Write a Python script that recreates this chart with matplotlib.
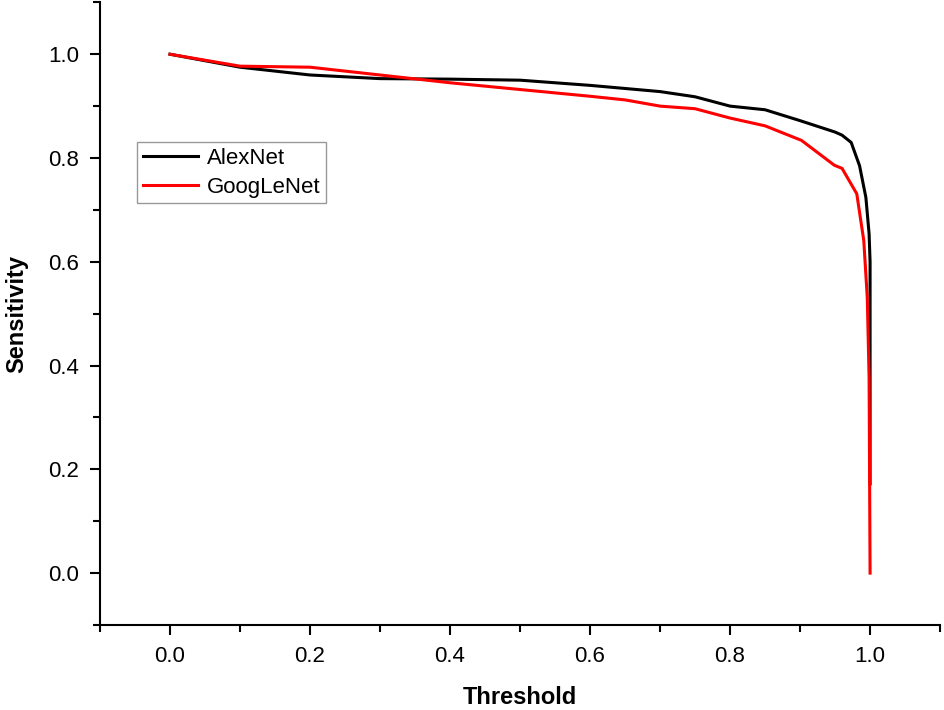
import matplotlib
matplotlib.use("Agg")
import matplotlib.pyplot as plt
from matplotlib.ticker import MultipleLocator

plt.rcParams['font.family'] = ['Liberation Sans', 'DejaVu Sans']

# threshold vs sensitivity
alex_x = [0.0, 0.1, 0.2, 0.3, 0.4, 0.5, 0.6, 0.7, 0.75, 0.8, 0.85, 0.9,
          0.95, 0.96, 0.973, 0.985, 0.994, 0.9986, 1.0, 1.0]
alex_y = [1.0, 0.975, 0.96, 0.953, 0.952, 0.95, 0.94, 0.928, 0.918, 0.9,
          0.893, 0.872, 0.85, 0.844, 0.83, 0.785, 0.724, 0.654, 0.6, 0.172]

goog_x = [0.0, 0.1, 0.2, 0.3, 0.4, 0.5, 0.6, 0.65, 0.7, 0.75, 0.8, 0.85,
          0.902, 0.949, 0.96, 0.981, 0.991, 0.996, 0.9986, 1.0]
goog_y = [1.0, 0.977, 0.975, 0.96, 0.945, 0.932, 0.919, 0.912, 0.9, 0.895,
          0.877, 0.862, 0.834, 0.786, 0.78, 0.731, 0.641, 0.531, 0.376, 0.0]

fig = plt.figure(figsize=(9.45, 7.1), dpi=100)
ax = fig.add_axes([0.1058, 0.1197, 0.889, 0.877])

ax.plot(alex_x, alex_y, color='black', lw=2.2, label='AlexNet')
ax.plot(goog_x, goog_y, color='red', lw=2.2, label='GoogLeNet')

ax.set_xlim(-0.1, 1.1)
ax.set_ylim(-0.1, 1.1)
ax.xaxis.set_minor_locator(MultipleLocator(0.1))
ax.yaxis.set_minor_locator(MultipleLocator(0.1))
ax.set_xticks([0.0, 0.2, 0.4, 0.6, 0.8, 1.0])
ax.set_yticks([0.0, 0.2, 0.4, 0.6, 0.8, 1.0])
ax.xaxis.set_major_formatter(plt.FormatStrFormatter('%.1f'))
ax.yaxis.set_major_formatter(plt.FormatStrFormatter('%.1f'))

for s in ['top', 'right']:
    ax.spines[s].set_visible(False)
for s in ['left', 'bottom']:
    ax.spines[s].set_linewidth(1.5)

ax.tick_params(which='major', direction='out', length=7, width=1.5, labelsize=16, pad=8)
ax.tick_params(which='minor', direction='out', length=5, width=1.5)

ax.set_xlabel('Threshold', fontsize=17, fontweight='bold', labelpad=14)
ax.set_ylabel('Sensitivity', fontsize=17, fontweight='bold', labelpad=14)

leg = ax.legend(loc='upper left', bbox_to_anchor=(0.044, 0.775), fontsize=16,
                frameon=True, fancybox=False, handlelength=2.5, handletextpad=0.4,
                borderpad=0.25, labelspacing=0.35, borderaxespad=0)
leg.get_frame().set_edgecolor('gray')
leg.get_frame().set_linewidth(1.0)

fig.savefig('out.png', dpi=100)
